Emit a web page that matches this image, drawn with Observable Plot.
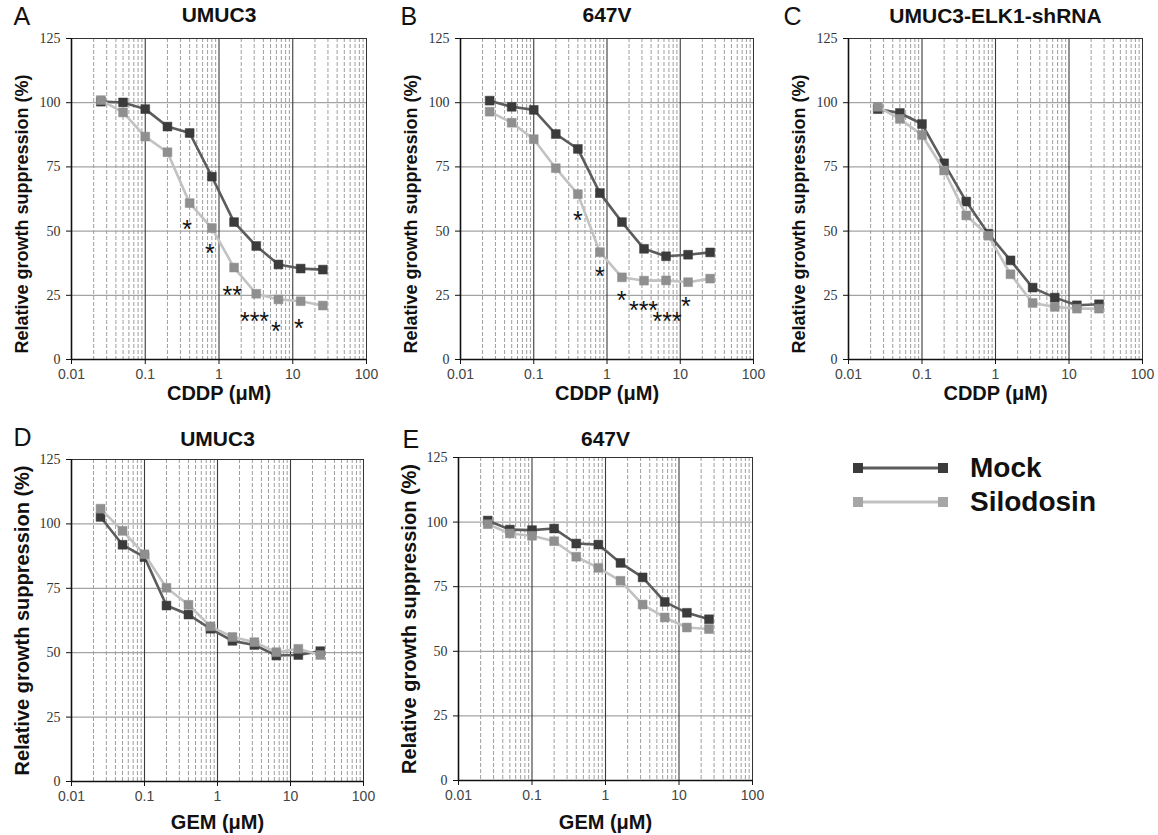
<!DOCTYPE html>
<html>
<head>
<meta charset="utf-8">
<script src="https://cdn.jsdelivr.net/npm/d3@7"></script>
<script src="https://cdn.jsdelivr.net/npm/@observablehq/plot@0.6"></script>
<style>
  html, body { margin: 0; padding: 0; background: #fff; }
  body { width: 1158px; height: 835px; overflow: hidden; position: relative; font-family: "Liberation Sans", Arial, sans-serif; }
  .panel { position: absolute; }
  #legend { position: absolute; left: 853px; top: 451px; }
  .lrow { display: flex; align-items: center; height: 34px; }
  .lrow span { font-weight: bold; font-size: 28px; color: #111; margin-left: 22px; line-height: 34px; }
</style>
</head>
<body>
<div id="A" class="panel"></div>
<div id="B" class="panel"></div>
<div id="C" class="panel"></div>
<div id="D" class="panel"></div>
<div id="E" class="panel"></div>
<div id="legend"></div>
<script>
// ---- data ----
const conc = [0.025, 0.05, 0.1, 0.2, 0.4, 0.8, 1.6, 3.2, 6.4, 12.8, 25.6];
const seriesNames = ["Mock", "Silodosin"];
const xTicks = [0.01, 0.1, 1, 10, 100];
const xTickLabels = ["0.01", "0.1", "1", "10", "100"];
const yTicks = [0, 25, 50, 75, 100, 125];
const yGrid = [25, 50, 75, 100];
const majorGrid = [0.1, 1, 10];
const minorMultipliers = [2, 3, 4, 5, 6, 7, 8, 9];
const decades = [0.01, 0.1, 1, 10];

const A_mock = [100.4, 100.1, 97.5, 90.7, 88.2, 71.2, 53.5, 44.2, 37.0, 35.4, 35.0];
const A_silo = [101.0, 96.2, 86.8, 80.7, 60.9, 51.2, 35.8, 25.6, 23.4, 22.7, 21.0];
const B_mock = [100.8, 98.4, 97.2, 87.8, 82.0, 64.8, 53.5, 43.1, 40.2, 40.8, 41.7];
const B_silo = [96.5, 92.2, 85.8, 74.5, 64.4, 41.8, 32.0, 30.7, 30.8, 30.1, 31.5];
const C_mock = [97.5, 96.0, 91.7, 76.4, 61.5, 49.0, 38.6, 28.0, 24.1, 21.1, 21.5];
const C_silo = [98.4, 93.7, 87.4, 73.6, 56.1, 48.2, 33.2, 22.0, 20.5, 19.8, 19.8];
const D_mock = [102.7, 91.9, 87.1, 68.3, 64.8, 59.3, 54.6, 53.0, 48.9, 49.1, 50.6];
const D_silo = [105.9, 97.3, 88.2, 75.2, 68.6, 60.2, 56.1, 54.1, 50.2, 51.5, 49.1];
const E_mock = [100.6, 97.1, 96.9, 97.5, 91.7, 91.3, 84.2, 78.6, 69.1, 64.9, 62.4];
const E_silo = [99.2, 95.6, 94.7, 92.6, 86.6, 82.3, 77.3, 68.1, 63.1, 59.2, 58.6];

const A_starX = [0.37, 0.75, 1.51, 3.03, 5.9, 12.1];
const A_starY = [53.1, 43.8, 27.6, 17.4, 13.3, 14.6];
const A_starLabel = ["*", "*", "**", "***", "*", "*"];
const B_starX = [0.40, 0.80, 1.58, 3.15, 6.6, 11.9];
const B_starY = [56.7, 35.0, 25.6, 21.8, 17.4, 23.1];
const B_starLabel = ["*", "*", "*", "***", "***", "*"];

const colors = {
  Mock: { line: "#5c5c5c", dot: "#3b3b3b", legendDot: "#3b3b3b" },
  Silodosin: { line: "#c2c2c2", dot: "#8f8f8f", legendDot: "#a6a6a6" }
};

const minorGrid = decades.flatMap(d => minorMultipliers.map(m => d * m));
const fontSans = "Liberation Sans, Arial, sans-serif";

function makePanel(cfg) {
  const ML = 71, MT = 38, MR = 12, MB = 56;
  const rows = [];
  seriesNames.forEach((s, k) => {
    const vals = k === 0 ? cfg.mock : cfg.silo;
    conc.forEach((c, i) => rows.push({ conc: c, value: vals[i], series: s }));
  });
  const stars = (cfg.starX || []).map((x, i) => ({ x, y: cfg.starY[i], label: cfg.starLabel[i] }));
  const marks = [
    Plot.ruleX(minorGrid, { stroke: "#9e9e9e", strokeWidth: 1, strokeDasharray: "4,2" }),
    Plot.ruleY(yGrid, { stroke: "#a3a3a3", strokeWidth: 1.2 }),
    Plot.ruleX(majorGrid, { stroke: "#3a3a3a", strokeWidth: 1.1 }),
    Plot.frame({ stroke: "#333", strokeWidth: 1 }),
    Plot.ruleX([xTicks[0]], { stroke: "#111", strokeWidth: 1.6 }),
    Plot.ruleY([0], { stroke: "#111", strokeWidth: 1.6 }),
    Plot.axisX({ ticks: xTicks, tickFormat: (d) => xTickLabels[xTicks.indexOf(d)], tickSize: 5, tickPadding: 5,
      fontSize: 14, fontFamily: fontSans, fill: "#444", stroke: "#111", label: null }),
    Plot.axisY({ ticks: yTicks, tickSize: 5, tickPadding: 6, fontSize: 14,
      fontFamily: "Liberation Serif, Times New Roman, serif", fill: "#333", stroke: "#111", label: null }),
  ];
  seriesNames.forEach(s => {
    const d = rows.filter(r => r.series === s);
    marks.push(Plot.line(d, { x: "conc", y: "value", stroke: colors[s].line, strokeWidth: 2.6 }));
    marks.push(Plot.dot(d, { x: "conc", y: "value", symbol: "square", r: 5, fill: colors[s].dot, stroke: colors[s].dot, strokeWidth: 0.5 }));
  });
  if (stars.length) {
    marks.push(Plot.text(stars, { x: "x", y: "y", text: "label", fontSize: 25, fontFamily: fontSans, fill: "#111", dy: 7 }));
  }
  marks.push(Plot.text([cfg.title], { frameAnchor: "top", textAnchor: "middle", lineAnchor: "middle", dy: cfg.titleDy, fontSize: 21, fontWeight: "bold", fontFamily: fontSans, fill: "#111" }));
  marks.push(Plot.text([cfg.letter], { frameAnchor: "top-left", textAnchor: "start", lineAnchor: "middle", dx: cfg.letterDx, dy: cfg.letterDy, fontSize: 25, fontFamily: fontSans, fill: "#111" }));
  marks.push(Plot.text([cfg.xlabel], { frameAnchor: "bottom", textAnchor: "middle", lineAnchor: "middle", dy: cfg.xlabelDy, fontSize: 20, fontWeight: "bold", fontFamily: fontSans, fill: "#111" }));
  marks.push(Plot.text(["Relative growth suppression (%)"], { frameAnchor: "left", textAnchor: "middle", lineAnchor: "middle", rotate: -90, dx: -49, dy: cfg.ylabelDy, fontSize: cfg.ylabelSize, fontWeight: "bold", fontFamily: fontSans, fill: "#111" }));

  const chart = Plot.plot({
    width: ML + cfg.fw + MR,
    height: MT + cfg.fh + MB,
    marginLeft: ML, marginTop: MT, marginRight: MR, marginBottom: MB,
    style: { background: "transparent", overflow: "visible" },
    x: { type: "log", domain: [0.01, 100] },
    y: { domain: [0, 125] },
    marks
  });
  const el = document.getElementById(cfg.id);
  el.style.left = (cfg.fx - ML) + "px";
  el.style.top = (cfg.fy - MT) + "px";
  el.appendChild(chart);
}

makePanel({ id: "A", fx: 71, fy: 38, fw: 295, fh: 321, mock: A_mock, silo: A_silo, starX: A_starX, starY: A_starY, starLabel: A_starLabel,
  title: "UMUC3", titleDy: -23, letter: "A", letterDx: -58, letterDy: -22, xlabel: "CDDP (μM)", xlabelDy: 34, ylabelDy: 15, ylabelSize: 18 });
makePanel({ id: "B", fx: 460, fy: 38, fw: 293, fh: 321, mock: B_mock, silo: B_silo, starX: B_starX, starY: B_starY, starLabel: B_starLabel,
  title: "647V", titleDy: -23, letter: "B", letterDx: -60, letterDy: -22, xlabel: "CDDP (μM)", xlabelDy: 34, ylabelDy: 15, ylabelSize: 18 });
makePanel({ id: "C", fx: 848, fy: 38, fw: 294, fh: 321, mock: C_mock, silo: C_silo,
  title: "UMUC3-ELK1-shRNA", titleDy: -22, letter: "C", letterDx: -65, letterDy: -22, xlabel: "CDDP (μM)", xlabelDy: 34, ylabelDy: 15, ylabelSize: 18 });
makePanel({ id: "D", fx: 71, fy: 459, fw: 292, fh: 322, mock: D_mock, silo: D_silo,
  title: "UMUC3", titleDy: -20, letter: "D", letterDx: -58, letterDy: -22, xlabel: "GEM (μM)", xlabelDy: 41, ylabelDy: 0, ylabelSize: 20 });
makePanel({ id: "E", fx: 458, fy: 457, fw: 294, fh: 323, mock: E_mock, silo: E_silo,
  title: "647V", titleDy: -18, letter: "E", letterDx: -56, letterDy: -18, xlabel: "GEM (μM)", xlabelDy: 42, ylabelDy: 0, ylabelSize: 20 });

// ---- legend ----
const legend = document.getElementById("legend");
seriesNames.forEach(s => {
  const row = document.createElement("div");
  row.className = "lrow";
  row.innerHTML = `<svg width="95" height="14"><line x1="5" x2="90" y1="7" y2="7" stroke="${colors[s].line}" stroke-width="3"/>` +
    `<rect x="0" y="2" width="10" height="10" fill="${colors[s].legendDot}"/><rect x="85" y="2" width="10" height="10" fill="${colors[s].legendDot}"/></svg>` +
    `<span>${s}</span>`;
  legend.appendChild(row);
});
</script>
</body>
</html>
